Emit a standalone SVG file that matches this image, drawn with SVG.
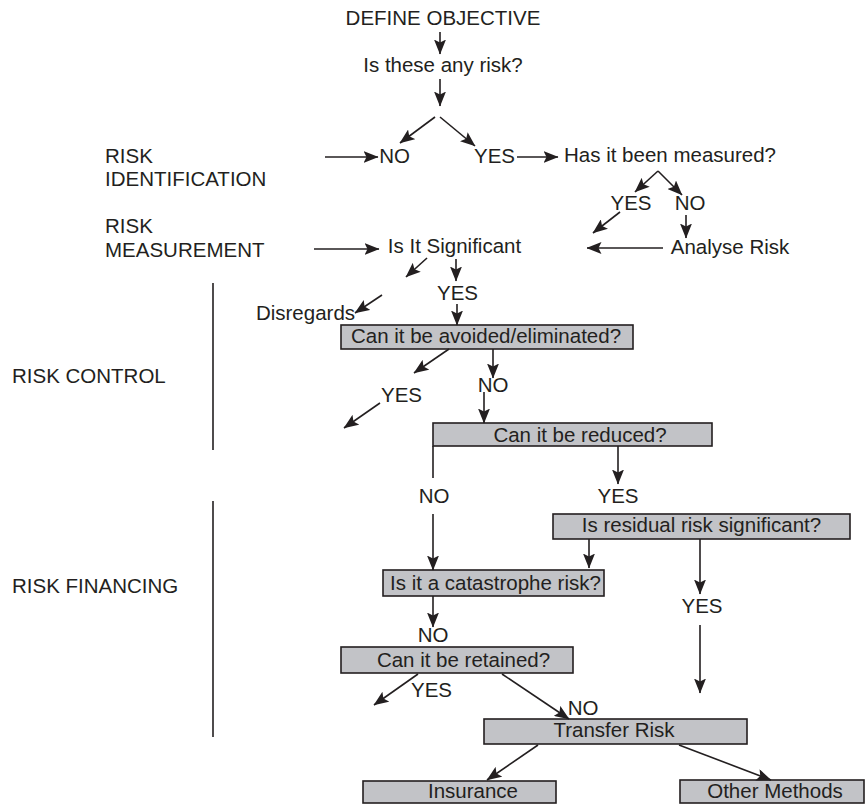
<svg xmlns="http://www.w3.org/2000/svg" width="867" height="804" viewBox="0 0 867 804">
<style>
text{font-family:"Liberation Sans",Arial,sans-serif;font-size:20.5px;fill:#231f20}
.c{text-anchor:middle}
.box{fill:#c2c3c7;stroke:#231f20;stroke-width:1.6}
.ln{stroke:#231f20;stroke-width:1.6;fill:none}
.ar{stroke:#231f20;stroke-width:1.6;fill:none;marker-end:url(#ah)}
</style>
<defs>
<marker id="ah" viewBox="0 0 15 12" refX="14.5" refY="6" markerWidth="15" markerHeight="12" markerUnits="userSpaceOnUse" orient="auto">
<path d="M0,0 L15,6 L0,12 L3,6 z" fill="#231f20"/>
</marker>
</defs>
<rect width="867" height="804" fill="#fff"/>
<g id="stage-labels">
<text x="105" y="163">RISK</text>
<text x="105" y="186">IDENTIFICATION</text>
<text x="105" y="233">RISK</text>
<text x="105" y="257">MEASUREMENT</text>
<text x="12" y="383">RISK CONTROL</text>
<text x="12" y="593">RISK FINANCING</text>
<line class="ln" x1="213" y1="283" x2="213" y2="450"/>
<line class="ln" x1="213" y1="501" x2="213" y2="737"/>
</g>
<g id="n-define"><text class="c" x="443" y="25">DEFINE OBJECTIVE</text></g>
<g id="n-anyrisk"><text class="c" x="443" y="72">Is these any risk?</text></g>
<g id="n-no1"><text class="c" x="394.5" y="163">NO</text></g>
<g id="n-yes1"><text class="c" x="494.5" y="163">YES</text></g>
<g id="n-measured"><text class="c" x="670" y="162">Has it been measured?</text></g>
<g id="n-yes2"><text class="c" x="631" y="210">YES</text></g>
<g id="n-no2"><text class="c" x="690" y="210">NO</text></g>
<g id="n-analyse"><text class="c" x="730" y="254">Analyse Risk</text></g>
<g id="n-significant"><text class="c" x="454.5" y="253">Is It Significant</text></g>
<g id="n-yes3"><text class="c" x="457.5" y="300">YES</text></g>
<g id="n-disregards"><text class="c" x="305.5" y="320">Disregards</text></g>
<g id="n-avoided"><rect class="box" x="341" y="325" width="292" height="24"/><text class="c" x="486" y="343">Can it be avoided/eliminated?</text></g>
<g id="n-no3"><text class="c" x="493" y="392">NO</text></g>
<g id="n-yes4"><text class="c" x="401.5" y="402">YES</text></g>
<g id="n-reduced"><rect class="box" x="433" y="423" width="279" height="23"/><text class="c" x="580" y="442">Can it be reduced?</text></g>
<g id="n-no4"><text class="c" x="434" y="503">NO</text></g>
<g id="n-yes5"><text class="c" x="618" y="503">YES</text></g>
<g id="n-residual"><rect class="box" x="553" y="514" width="297" height="25"/><text class="c" x="701.5" y="532">Is residual risk significant?</text></g>
<g id="n-catastrophe"><rect class="box" x="383" y="570" width="221" height="26"/><text class="c" x="495.5" y="590">Is it a catastrophe risk?</text></g>
<g id="n-yes6"><text class="c" x="702" y="613">YES</text></g>
<g id="n-no5"><text class="c" x="433" y="642">NO</text></g>
<g id="n-retained"><rect class="box" x="341" y="647" width="232" height="26"/><text class="c" x="463.5" y="667">Can it be retained?</text></g>
<g id="n-yes7"><text class="c" x="431.5" y="697">YES</text></g>
<g id="n-no6"><text class="c" x="583" y="715">NO</text></g>
<g id="n-transfer"><rect class="box" x="484" y="719" width="263" height="25"/><text class="c" x="614" y="737">Transfer Risk</text></g>
<g id="n-insurance"><rect class="box" x="363" y="781" width="193" height="22"/><text class="c" x="473" y="798">Insurance</text></g>
<g id="n-other"><rect class="box" x="680" y="780" width="184" height="23"/><text class="c" x="775" y="798">Other Methods</text></g>
<g id="connectors">
<line class="ar" x1="440" y1="32" x2="440" y2="54"/>
<line class="ar" x1="440" y1="79" x2="440" y2="106"/>
<line class="ar" x1="435" y1="117" x2="400" y2="143"/>
<line class="ar" x1="440" y1="117" x2="475" y2="146"/>
<line class="ar" x1="325" y1="157" x2="378" y2="157"/>
<line class="ar" x1="517" y1="157" x2="558" y2="157"/>
<line class="ar" x1="658" y1="171" x2="635" y2="192"/>
<line class="ar" x1="658" y1="171" x2="682" y2="195"/>
<line class="ar" x1="620" y1="212" x2="593" y2="233"/>
<line class="ar" x1="686" y1="215" x2="686" y2="238"/>
<line class="ar" x1="663" y1="248" x2="587" y2="248"/>
<line class="ar" x1="314" y1="249" x2="379" y2="249"/>
<line class="ar" x1="427" y1="258" x2="406" y2="277"/>
<line class="ar" x1="456" y1="259" x2="456" y2="281"/>
<line class="ar" x1="457" y1="304" x2="457" y2="325"/>
<line class="ar" x1="382" y1="295" x2="355" y2="313"/>
<line class="ar" x1="449" y1="349" x2="414" y2="373"/>
<line class="ar" x1="493" y1="349" x2="493" y2="378"/>
<line class="ar" x1="484" y1="392" x2="484" y2="423"/>
<line class="ar" x1="380" y1="403" x2="344" y2="428"/>
<line class="ln" x1="433" y1="446" x2="433" y2="478"/>
<line class="ar" x1="433" y1="514" x2="433" y2="570"/>
<line class="ar" x1="618" y1="446" x2="618" y2="484"/>
<line class="ar" x1="589" y1="539" x2="589" y2="568"/>
<line class="ar" x1="700" y1="539" x2="700" y2="594"/>
<line class="ar" x1="433" y1="596" x2="433" y2="627"/>
<line class="ar" x1="700" y1="625" x2="700" y2="693"/>
<line class="ar" x1="418" y1="674" x2="374" y2="705"/>
<line class="ar" x1="502" y1="674" x2="569" y2="719"/>
<line class="ar" x1="538" y1="745" x2="487" y2="780"/>
<line class="ar" x1="679" y1="745" x2="771" y2="780"/>
</g>
</svg>
